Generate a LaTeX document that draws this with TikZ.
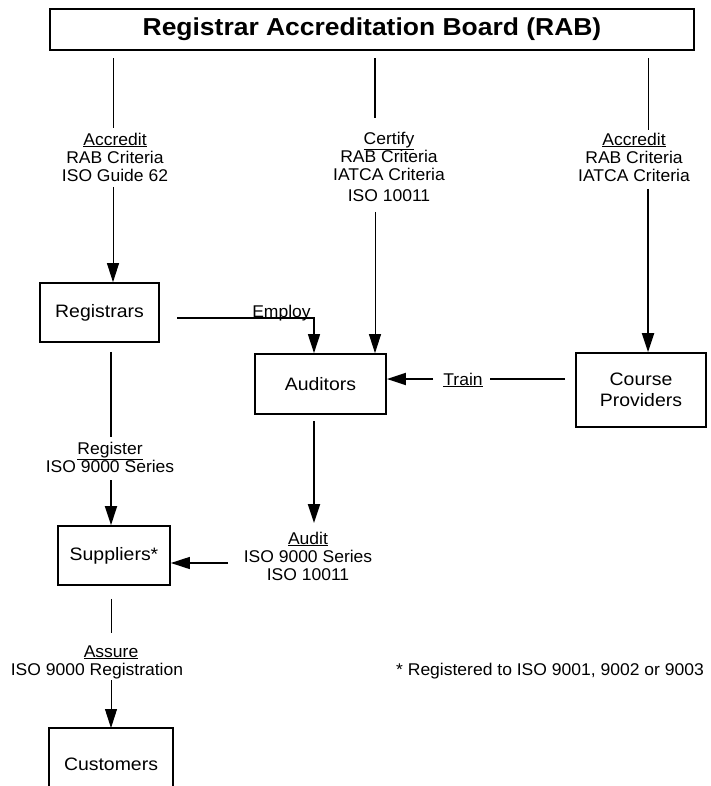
\documentclass[tikz,border=0pt]{standalone}
\usepackage{fontspec}
\setmainfont{Liberation Sans}
\newfontfamily\labfont[FakeStretch=1.03]{Liberation Sans}
\newfontfamily\boxfont[FakeStretch=1.08]{Liberation Sans}
\newfontfamily\ttlfont[FakeStretch=1.08]{Liberation Sans}
\usetikzlibrary{arrows.meta}
\begin{document}
\begin{tikzpicture}[x=1pt,y=-1pt,
  box/.style={draw, line width=1.7pt, inner sep=0pt, font=\boxfont\fontsize{18}{21.5}\selectfont, align=center},
  lab/.style={inner sep=0pt, align=center, font=\labfont\fontsize{17}{18}\selectfont},
  thinln/.style={line width=0.9pt},
  medln/.style={line width=1.3pt},
  thkln/.style={line width=1.9pt},
  arr/.style={-{Triangle[length=19pt,width=12pt]}}]
\useasboundingbox (0,0) rectangle (710,786);
% boxes
\node[box, line width=2.7pt, minimum width=644pt, minimum height=41pt,
      font=\ttlfont\bfseries\fontsize{24.5}{28}\selectfont] (rab) at (372,29.5) {Registrar Accreditation Board (RAB)};
\node[box, minimum width=119pt, minimum height=59pt] (reg) at (99.5,312.5) {Registrars};
\node[box, minimum width=131pt, minimum height=60pt] (aud) at (320.5,384) {Auditors};
\node[box, minimum width=130pt, minimum height=74pt] (cp) at (641,390) {Course\\Providers};
\node[box, minimum width=112pt, minimum height=59pt] (sup) at (114,555.5) {Suppliers*};
\node[box, draw=none, minimum width=122pt, minimum height=70pt, anchor=north] (cus) at (111,728) {Customers};
\draw[line width=1.7pt] (cus.south west) -- (cus.north west) -- (cus.north east) -- (cus.south east);
% labels
\node[lab] (acc1) at (115,157) {\underline{Accredit}\\RAB Criteria\\ISO Guide 62};
\node[lab] (cert) at (389,167) {\underline{Certify}\\RAB Criteria\\IATCA Criteria\\[3pt]ISO 10011};
\node[lab] (acc2) at (634,157) {\underline{Accredit}\\RAB Criteria\\IATCA Criteria};
\node[lab, anchor=base] (emp) at (281.5,317) {Employ};
\node[lab] (train) at (463,380) {\underline{Train}};
\node[lab] (regl) at (110,457) {\underline{Register}\\ISO 9000 Series};
\node[lab] (audl) at (308,556) {\underline{Audit}\\ISO 9000 Series\\ISO 10011};
\node[lab] (asl) at (97,662) {\hspace*{28pt}\underline{Assure}\\ISO 9000 Registration};
\node[lab, anchor=east] (foot) at (704,671) {* Registered to ISO 9001, 9002 or 9003};
% coordinates
\coordinate (L1) at (113,128); \coordinate (L2) at (113,187);
\coordinate (M1) at (375,118); \coordinate (M2) at (375,212);
\coordinate (R1) at (648,130); \coordinate (R2) at (648,189);
\coordinate (E1) at (177,318); \coordinate (E2) at (314,318);
\coordinate (T1) at (565,379); \coordinate (T2) at (490,379); \coordinate (T3) at (433,379);
\coordinate (S1) at (111,437); \coordinate (S2) at (111,480);
\coordinate (A1) at (314,421); \coordinate (A2) at (314,523);
\coordinate (B1) at (228,563);
\coordinate (C1) at (111,633); \coordinate (C2) at (111,680);
% connectors
\draw[thinln, shorten <=7pt] (rab.south -| L1) -- (L1);
\draw[thinln, arr] (L2) -- (L2 |- reg.north);
\draw[medln, shorten <=7pt] (rab.south -| M1) -- (M1);
\draw[thinln, arr] (M2) -- (M2 |- aud.north);
\draw[thinln, shorten <=7pt] (rab.south -| R1) -- (R1);
\draw[thkln, arr] (R2) -- (R2 |- cp.north);
\draw[medln, arr] (E1) -- (E2) -- (E2 |- aud.north);
\draw[thkln] (T1) -- (T2);
\draw[thkln, arr] (T3) -- (T3 -| aud.east);
\draw[thkln, shorten <=9pt] (reg.south -| S1) -- (S1);
\draw[thkln, arr] (S2) -- (S2 |- sup.north);
\draw[thkln, arr] (A1) -- (A2);
\draw[medln, arr] (B1) -- (B1 -| sup.east);
\draw[thinln, shorten <=13pt] (sup.south -| C1) -- (C1);
\draw[thinln, arr] (C2) -- (C2 |- cus.north);
\end{tikzpicture}
\end{document}
